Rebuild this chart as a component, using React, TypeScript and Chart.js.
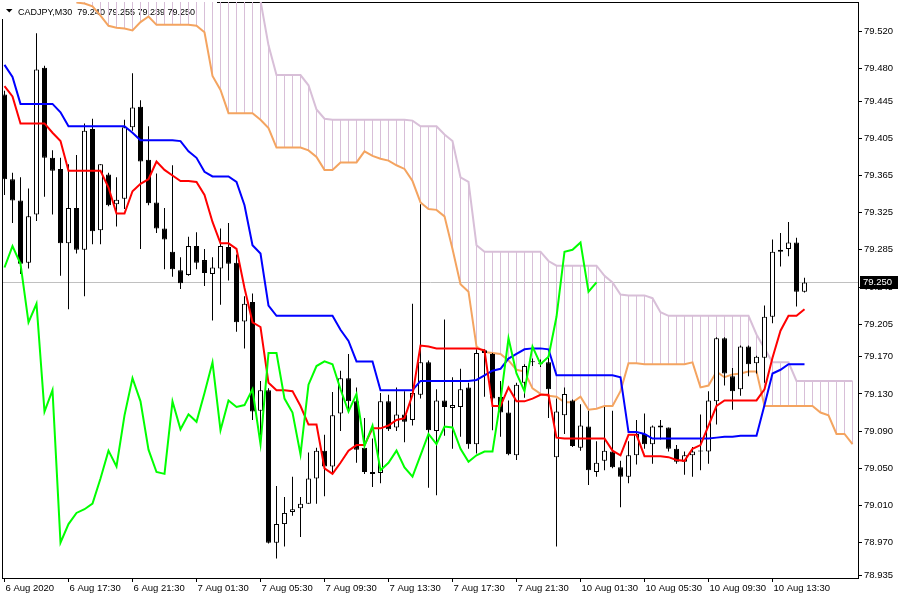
import React, { useEffect, useRef } from "react";
import { Chart, registerables } from "chart.js";

Chart.register(...registerables);

const SYMBOL = "CADJPY,M30";

// M30 candles, bar 0 = 6 Aug 2020 13:30 ... bar 100 = 10 Aug 15:30
const OPEN = [
  79.452, 79.361, 79.338, 79.271, 79.323, 79.481, 79.384, 79.372, 79.292, 79.330,
  79.285, 79.415, 79.306, 79.366, 79.334, 79.340, 79.417, 79.439, 79.382, 79.336,
  79.308, 79.283, 79.263, 79.258, 79.289, 79.274, 79.259, 79.265, 79.288, 79.271,
  79.208, 79.229, 79.112, 79.134, 78.970, 78.990, 79.003, 79.007, 79.012, 79.039,
  79.069, 79.052, 79.109, 79.147, 79.122, 79.072, 79.046, 79.045, 79.122, 79.094,
  79.108, 79.102, 79.129, 79.164, 79.090, 79.123, 79.115, 79.116, 79.137, 79.076,
  79.177, 79.173, 79.127, 79.110, 79.064, 79.142, 79.164, 79.163, 79.164, 79.062,
  79.107, 79.123, 79.072, 79.095, 79.046, 79.058, 79.068, 79.051, 79.041, 79.064,
  79.087, 79.076, 79.096, 79.094, 79.071, 79.057, 79.064, 79.068, 79.068, 79.122,
  79.190, 79.149, 79.135, 79.181, 79.163, 79.169, 79.213, 79.283, 79.286, 79.293,
  79.240,
];
const HIGH = [
  79.456, 79.368, 79.363, 79.351, 79.518, 79.483, 79.392, 79.384, 79.377, 79.387,
  79.421, 79.426, 79.377, 79.368, 79.363, 79.425, 79.475, 79.446, 79.418, 79.367,
  79.330, 79.376, 79.277, 79.299, 79.304, 79.286, 79.277, 79.308, 79.314, 79.280,
  79.235, 79.238, 79.144, 79.136, 79.031, 79.019, 79.041, 79.019, 79.067, 79.072,
  79.086, 79.132, 79.155, 79.173, 79.137, 79.104, 79.082, 79.131, 79.129, 79.137,
  79.133, 79.227, 79.334, 79.166, 79.135, 79.210, 79.148, 79.157, 79.142, 79.178,
  79.178, 79.174, 79.144, 79.123, 79.142, 79.162, 79.168, 79.167, 79.169, 79.125,
  79.137, 79.124, 79.119, 79.112, 79.079, 79.116, 79.112, 79.058, 79.079, 79.102,
  79.109, 79.096, 79.102, 79.094, 79.075, 79.068, 79.073, 79.108, 79.133, 79.191,
  79.191, 79.158, 79.182, 79.182, 79.171, 79.225, 79.296, 79.303, 79.315, 79.298,
  79.255,
];
const LOW = [
  79.344, 79.314, 79.259, 79.265, 79.316, 79.342, 79.323, 79.257, 79.221, 79.281,
  79.235, 79.291, 79.291, 79.332, 79.310, 79.329, 79.413, 79.286, 79.333, 79.303,
  79.264, 79.256, 79.243, 79.257, 79.264, 79.246, 79.209, 79.226, 79.252, 79.197,
  79.179, 79.102, 79.077, 78.969, 78.953, 78.966, 78.999, 78.976, 79.012, 79.012,
  79.020, 79.045, 79.090, 79.110, 79.056, 79.044, 79.030, 79.034, 79.090, 79.090,
  79.078, 79.096, 79.125, 79.029, 79.021, 79.085, 79.071, 79.084, 79.071, 79.066,
  79.127, 79.091, 79.084, 79.064, 79.059, 79.126, 79.160, 79.159, 79.104, 78.966,
  79.087, 79.073, 79.069, 79.032, 79.041, 79.048, 79.050, 79.008, 79.034, 79.054,
  79.071, 79.055, 79.081, 79.068, 79.055, 79.043, 79.041, 79.048, 79.055, 79.097,
  79.139, 79.113, 79.128, 79.149, 79.152, 79.142, 79.206, 79.267, 79.278, 79.224,
  79.239,
];
const CLOSE = [
  79.361, 79.338, 79.270, 79.321, 79.479, 79.384, 79.370, 79.292, 79.330, 79.285,
  79.413, 79.305, 79.377, 79.333, 79.339, 79.417, 79.438, 79.380, 79.335, 79.308,
  79.296, 79.264, 79.249, 79.289, 79.271, 79.260, 79.266, 79.289, 79.270, 79.207,
  79.227, 79.111, 79.134, 78.970, 78.990, 79.002, 79.006, 79.012, 79.039, 79.069,
  79.052, 79.107, 79.147, 79.122, 79.070, 79.046, 79.044, 79.122, 79.092, 79.108,
  79.100, 79.131, 79.164, 79.091, 79.123, 79.116, 79.118, 79.135, 79.076, 79.174,
  79.174, 79.125, 79.110, 79.065, 79.140, 79.160, 79.165, 79.162, 79.135, 79.111,
  79.130, 79.074, 79.096, 79.048, 79.056, 79.069, 79.051, 79.041, 79.064, 79.087,
  79.076, 79.095, 79.094, 79.071, 79.057, 79.064, 79.068, 79.068, 79.123, 79.190,
  79.152, 79.133, 79.181, 79.162, 79.170, 79.213, 79.283, 79.285, 79.293, 79.240,
  79.250,
];

// Ichimoku lines
const TENKAN = [
  79.461, 79.450, 79.421, 79.421, 79.421, 79.421, 79.411, 79.402, 79.370, 79.370,
  79.370, 79.370, 79.370, 79.352, 79.324, 79.324, 79.348, 79.356, 79.361, 79.380,
  79.371, 79.365, 79.359, 79.359, 79.358, 79.344, 79.315, 79.292, 79.292, 79.286,
  79.244, 79.207, 79.202, 79.142, 79.134, 79.134, 79.133, 79.117, 79.097, 79.097,
  79.050, 79.044, 79.056, 79.069, 79.075, 79.075, 79.093, 79.093, 79.096, 79.102,
  79.104, 79.129, 79.182, 79.181, 79.179, 79.179, 79.179, 79.179, 79.179, 79.179,
  79.177, 79.117, 79.117, 79.137, 79.122, 79.122, 79.125, 79.129, 79.129, 79.083,
  79.082, 79.082, 79.082, 79.082, 79.082, 79.082, 79.069, 79.064, 79.086, 79.086,
  79.063, 79.063, 79.063, 79.062, 79.059, 79.058, 79.071, 79.075, 79.096, 79.117,
  79.123, 79.123, 79.123, 79.123, 79.123, 79.135, 79.169, 79.198, 79.214, 79.214,
  79.221,
];
const KIJUN = [
  79.484, 79.471, 79.442, 79.442, 79.442, 79.442, 79.442, 79.433, 79.418, 79.418,
  79.418, 79.418, 79.418, 79.418, 79.418, 79.418, 79.411, 79.403, 79.403, 79.403,
  79.403, 79.403, 79.402, 79.391, 79.384, 79.369, 79.364, 79.364, 79.364, 79.358,
  79.333, 79.290, 79.281, 79.225, 79.214, 79.214, 79.214, 79.214, 79.214, 79.214,
  79.214, 79.214, 79.199, 79.187, 79.165, 79.165, 79.165, 79.134, 79.134, 79.134,
  79.134, 79.134, 79.144, 79.144, 79.144, 79.144, 79.144, 79.144, 79.144, 79.145,
  79.150, 79.155, 79.157, 79.168, 79.173, 79.178, 79.179, 79.179, 79.178, 79.150,
  79.150, 79.150, 79.150, 79.150, 79.150, 79.150, 79.150, 79.148, 79.089, 79.089,
  79.087, 79.082, 79.082, 79.082, 79.082, 79.082, 79.082, 79.082, 79.082, 79.083,
  79.084, 79.084, 79.085, 79.085, 79.085, 79.118, 79.152, 79.156, 79.162, 79.162,
  79.162,
];
// Senkou spans (already shifted 26 bars ahead); null = above the visible range
const SENKOU_A = [
  null, null, null, null, null, null, null, null, null, 79.551,
  79.550, 79.547, 79.537, 79.526, 79.524, 79.523, 79.521, 79.530, 79.536, 79.527,
  79.527, 79.527, 79.527, 79.527, 79.526, 79.519, 79.472, 79.457, 79.432, 79.432,
  79.432, 79.432, 79.425, 79.416, 79.395, 79.395, 79.395, 79.395, 79.392, 79.385,
  79.371, 79.371, 79.379, 79.379, 79.379, 79.391, 79.386, 79.383, 79.381, 79.376,
  79.372, 79.359, 79.336, 79.329, 79.328, 79.321, 79.286, 79.248, 79.240, 79.181,
  79.175, 79.174, 79.173, 79.166, 79.156, 79.154, 79.136, 79.130, 79.128, 79.127,
  79.121, 79.121, 79.127, 79.113, 79.114, 79.117, 79.117, 79.133, 79.163, 79.163,
  79.162, 79.162, 79.162, 79.162, 79.162, 79.162, 79.164, 79.137, 79.139, 79.154,
  79.148, 79.151, 79.152, 79.154, 79.154, 79.117, 79.117, 79.117, 79.117, 79.117,
  79.117, 79.117, 79.110, 79.107, 79.087, 79.087, 79.076,
];
const SENKOU_B = [
  null, null, null, null, null, null, null, null, null, null,
  null, null, null, null, null, null, null, null, null, null,
  null, null, null, null, null, null, null, null, null, null,
  null, null, 79.553, 79.505, 79.473, 79.473, 79.473, 79.473, 79.462, 79.436,
  79.426, 79.425, 79.425, 79.425, 79.425, 79.425, 79.425, 79.425, 79.425, 79.425,
  79.425, 79.424, 79.418, 79.418, 79.418, 79.409, 79.402, 79.363, 79.358, 79.290,
  79.283, 79.283, 79.283, 79.283, 79.283, 79.283, 79.283, 79.283, 79.273, 79.268,
  79.268, 79.268, 79.268, 79.268, 79.268, 79.257, 79.250, 79.237, 79.236, 79.236,
  79.236, 79.233, 79.218, 79.214, 79.214, 79.214, 79.214, 79.214, 79.214, 79.214,
  79.214, 79.214, 79.214, 79.214, 79.194, 79.179, 79.164, 79.164, 79.164, 79.144,
  79.144, 79.144, 79.144, 79.144, 79.144, 79.144, 79.144,
];
const CHIKOU_SHIFT = 26;

const X_TICK_BARS = [0, 8, 16, 24, 32, 40, 48, 56, 64, 72, 80, 88, 96];
const X_TICK_LABELS = [
  "6 Aug 2020", "6 Aug 17:30", "6 Aug 21:30", "7 Aug 01:30", "7 Aug 05:30",
  "7 Aug 09:30", "7 Aug 13:30", "7 Aug 17:30", "7 Aug 21:30", "10 Aug 01:30",
  "10 Aug 05:30", "10 Aug 09:30", "10 Aug 13:30",
];
const Y_TICKS = [
  79.52, 79.48, 79.445, 79.405, 79.365, 79.325, 79.285, 79.245,
  79.205, 79.17, 79.13, 79.09, 79.05, 79.01, 78.97, 78.935,
];

// view window
const Y_MIN = 78.932;
const Y_MAX = 79.5516;
const X_MIN = -0.3125;
const X_MAX = 106.6875;

const COLORS = {
  tenkan: "#FF0000",
  kijun: "#0000FF",
  chikou: "#00FF00",
  spanA: "#F4A460",
  spanB: "#D8BFD8",
  candle: "#000000",
  bull: "#FFFFFF",
  priceLine: "#C0C0C0",
};

const FONT = '"Liberation Sans", Arial, sans-serif';

const mt4Plugin = {
  id: "mt4Decor",
  beforeDraw(chart: any) {
    const { ctx, width, height } = chart;
    ctx.save();
    ctx.fillStyle = "#ffffff";
    ctx.fillRect(0, 0, width, height);
    ctx.restore();
  },
  beforeDatasetsDraw(chart: any) {
    const { ctx, chartArea: a, scales } = chart;
    const n = CLOSE.length - 1;
    ctx.save();
    ctx.strokeStyle = "#000";
    ctx.lineWidth = 1;
    ctx.strokeRect(a.left + 0.5, a.top + 0.5, a.right - a.left, a.bottom - a.top);
    const py = Math.round(scales.y.getPixelForValue(CLOSE[n])) + 0.5;
    ctx.strokeStyle = COLORS.priceLine;
    ctx.beginPath();
    ctx.moveTo(a.left + 1, py);
    ctx.lineTo(a.right, py);
    ctx.stroke();
    // title block
    ctx.fillStyle = "#fff";
    ctx.fillRect(0, 0, 217, 19);
    ctx.fillStyle = "#000";
    ctx.beginPath();
    ctx.moveTo(6, 9);
    ctx.lineTo(12.5, 9);
    ctx.lineTo(9.25, 12.5);
    ctx.closePath();
    ctx.fill();
    ctx.font = `9px ${FONT}`;
    ctx.textAlign = "left";
    ctx.textBaseline = "alphabetic";
    const ohlc = [OPEN[n], HIGH[n], LOW[n], CLOSE[n]].map((v) => v.toFixed(3)).join(" ");
    ctx.fillText(`${SYMBOL}  ${ohlc}`, 18, 14.5);
    ctx.restore();
  },
  afterDraw(chart: any) {
    const { ctx, scales } = chart;
    const n = CLOSE.length - 1;
    const py = Math.round(scales.y.getPixelForValue(CLOSE[n]));
    const x0 = scales.y.left + 2;
    ctx.save();
    ctx.fillStyle = "#000";
    ctx.fillRect(x0, py - 6, 38, 13);
    ctx.fillStyle = "#fff";
    ctx.font = `9.5px ${FONT}`;
    ctx.textAlign = "left";
    ctx.textBaseline = "middle";
    ctx.fillText(CLOSE[n].toFixed(3), x0 + 3, py + 0.5);
    ctx.restore();
  },
};

export default function App() {
  const ref = useRef<HTMLCanvasElement>(null);

  useEffect(() => {
    const canvas = ref.current;
    if (!canvas) return;

    const cloud = SENKOU_A.map((a, i) => ({ a, b: SENKOU_B[i], i }))
      .filter((d) => d.a !== null)
      .map((d) => ({ x: d.i, y: [d.a as number, (d.b ?? Y_MAX) as number] }));

    const wicks = HIGH.map((h, i) => ({ x: i, y: [LOW[i], h] }));
    const bodies = OPEN.map((o, i) => ({ x: i, y: [o, CLOSE[i]] }));
    const bodyColors = OPEN.map((o, i) => (CLOSE[i] >= o ? COLORS.bull : COLORS.candle));

    const lineDs = (label: string, values: (number | null)[], color: string, order: number) => ({
      type: "line" as const,
      label,
      data: values.map((v, i) => ({ x: i, y: v })),
      borderColor: color,
      borderWidth: 2,
      pointRadius: 0,
      tension: 0,
      fill: false,
      order,
    });

    const chart = new Chart(canvas, {
      type: "line",
      data: {
        datasets: [
          {
            type: "bar",
            label: "Kumo",
            data: cloud as any,
            backgroundColor: COLORS.spanB,
            borderWidth: 0,
            barThickness: 1,
            grouped: false,
            inflateAmount: 0,
            order: 10,
          } as any,
          lineDs("Senkou Span A", SENKOU_A, COLORS.spanA, 9),
          lineDs("Senkou Span B", SENKOU_B, COLORS.spanB, 9),
          {
            type: "bar",
            label: "wicks",
            data: wicks as any,
            backgroundColor: COLORS.candle,
            borderWidth: 0,
            barThickness: 1,
            grouped: false,
            inflateAmount: 0,
            order: 8,
          } as any,
          {
            type: "bar",
            label: "bodies",
            data: bodies as any,
            backgroundColor: bodyColors,
            borderColor: COLORS.candle,
            borderWidth: 1,
            borderSkipped: false,
            barThickness: 5,
            minBarLength: 1,
            grouped: false,
            inflateAmount: 0,
            order: 7,
          } as any,
          lineDs("Kijun-sen", KIJUN, COLORS.kijun, 6),
          lineDs("Tenkan-sen", TENKAN, COLORS.tenkan, 5),
          lineDs("Chikou Span", CLOSE.slice(CHIKOU_SHIFT), COLORS.chikou, 4),
        ],
      },
      options: {
        animation: false,
        responsive: false,
        devicePixelRatio: 1,
        events: [],
        layout: { padding: { left: 2, top: 2, right: 0, bottom: 0 } },
        plugins: { legend: { display: false }, tooltip: { enabled: false } },
        scales: {
          x: {
            type: "linear",
            position: "bottom",
            min: X_MIN,
            max: X_MAX,
            bounds: "data",
            offset: false,
            grid: { drawOnChartArea: false, drawTicks: true, tickLength: 4, color: "#000", offset: false },
            border: { display: false },
            ticks: {
              autoSkip: false,
              maxRotation: 0,
              minRotation: 0,
              align: "start",
              labelOffset: 1,
              padding: 1,
              color: "#000",
              font: { family: FONT, size: 9.5 },
              callback: (_v: any, i: number) => X_TICK_LABELS[i],
            },
            afterBuildTicks: (s: any) => {
              s.ticks = X_TICK_BARS.map((b) => ({ value: b }));
            },
            afterFit: (s: any) => {
              s.height = 22;
              s.paddingLeft = 0;
              s.paddingRight = 0;
            },
          } as any,
          y: {
            type: "linear",
            position: "right",
            min: Y_MIN,
            max: Y_MAX,
            bounds: "data",
            grid: { drawOnChartArea: false, drawTicks: true, tickLength: 4, color: "#000" },
            border: { display: false },
            ticks: {
              autoSkip: false,
              padding: 2,
              color: "#000",
              font: { family: FONT, size: 9.5 },
              callback: (v: any) => Number(v).toFixed(3),
            },
            afterBuildTicks: (s: any) => {
              s.ticks = Y_TICKS.map((v) => ({ value: v }));
            },
            afterFit: (s: any) => {
              s.width = 42;
              s.paddingTop = 0;
              s.paddingBottom = 0;
            },
          } as any,
        },
      },
      plugins: [mt4Plugin],
    });

    return () => chart.destroy();
  }, []);

  return (
    <div style={{ position: "absolute", left: 0, top: 0, width: 900, height: 600, background: "#fff" }}>
      <canvas ref={ref} width={900} height={600} style={{ display: "block", width: 900, height: 600 }} />
    </div>
  );
}
